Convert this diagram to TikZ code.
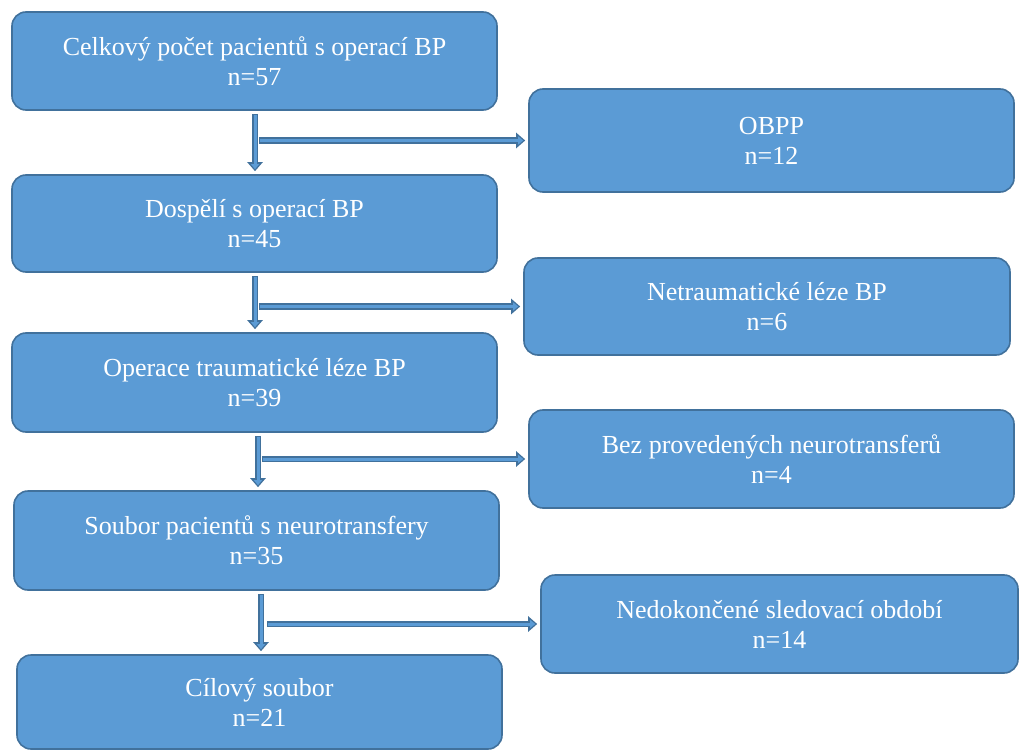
\documentclass[tikz,border=0pt]{standalone}
\usepackage{fontspec}
\setmainfont{Liberation Serif}
\usetikzlibrary{arrows.meta}
\definecolor{boxfill}{HTML}{5B9BD5}
\definecolor{boxline}{HTML}{41719C}
\tikzset{
  flowbox/.style={draw=boxline, line width=1.6pt, fill=boxfill, rounded corners=14pt,
    text=white, align=center, font=\fontsize{26}{30}\selectfont, inner sep=0pt},
  blockarrow/.style={draw=boxline, line width=6.5pt, shorten >=3pt, shorten <=3pt,
    -{Triangle[length=9pt,width=15pt]},
    postaction={draw=boxfill, line width=3pt, shorten >=5pt, shorten <=4pt,
      -{Triangle[length=5pt,width=8pt]}}}
}
\begin{document}
\begin{tikzpicture}[x=1pt,y=-1pt]
\useasboundingbox (0,0) rectangle (1019,751);
\node[flowbox, minimum width=485pt, minimum height=98pt] (b1) at (254.5,61) {Celkový počet pacientů s operací BP\\n=57};
\node[flowbox, minimum width=485pt, minimum height=103pt] (b2) at (771.5,140.5) {OBPP\\n=12};
\node[flowbox, minimum width=485pt, minimum height=97pt] (b3) at (254.5,223.5) {Dospělí s operací BP\\n=45};
\node[flowbox, minimum width=486pt, minimum height=97pt] (b4) at (767,306.5) {Netraumatické léze BP\\n=6};
\node[flowbox, minimum width=485pt, minimum height=99pt] (b5) at (254.5,382.5) {Operace traumatické léze BP\\n=39};
\node[flowbox, minimum width=485pt, minimum height=98pt] (b6) at (771.5,459) {Bez provedených neurotransferů\\n=4};
\node[flowbox, minimum width=485pt, minimum height=99pt] (b7) at (256.5,540.5) {Soubor pacientů s neurotransfery\\n=35};
\node[flowbox, minimum width=477pt, minimum height=98pt] (b8) at (779.5,624) {Nedokončené sledovací období\\n=14};
\node[flowbox, minimum width=485pt, minimum height=94pt] (b9) at (259.5,702) {Cílový soubor\\n=21};

\coordinate (v1) at (255,0);
\coordinate (v2) at (255,0);
\coordinate (v3) at (258,0);
\coordinate (v4) at (261,0);

\draw[blockarrow] (v1 |- b1.south) -- (v1 |- b3.north);
\draw[blockarrow] ([xshift=1pt]v1 |- b2.west) -- (b2.west);
\draw[blockarrow] (v2 |- b3.south) -- (v2 |- b5.north);
\draw[blockarrow] ([xshift=1pt]v2 |- b4.west) -- (b4.west);
\draw[blockarrow] (v3 |- b5.south) -- (v3 |- b7.north);
\draw[blockarrow] ([xshift=1pt]v3 |- b6.west) -- (b6.west);
\draw[blockarrow] (v4 |- b7.south) -- (v4 |- b9.north);
\draw[blockarrow] ([xshift=3pt]v4 |- b8.west) -- (b8.west);
\end{tikzpicture}
\end{document}
